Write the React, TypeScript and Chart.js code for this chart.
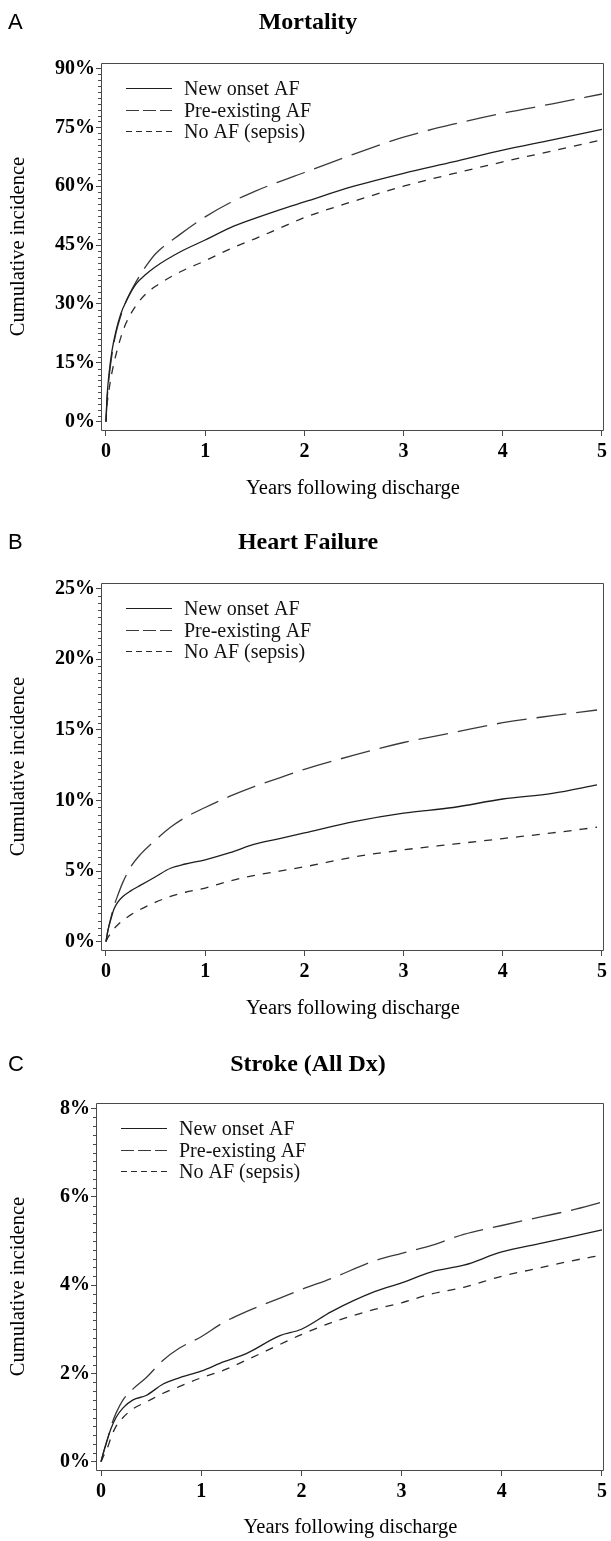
import React, { useEffect, useRef } from "react";
import { Chart, registerables } from "chart.js";

Chart.register(...registerables);

// ---------------- Data ----------------
const seriesLabels = ["New onset AF", "Pre-existing AF", "No AF (sepsis)"];
const xTickYears = [0, 1, 2, 3, 4, 5];

const mortalityYears = [0, 0.01, 0.03, 0.06, 0.1, 0.15, 0.2, 0.3, 0.4, 0.5, 0.75, 1, 1.25, 1.5, 1.75, 2, 2.5, 3, 3.5, 4, 4.5, 5];
const mortalityNewOnset = [0, 6, 12, 18, 23, 27.5, 30.5, 35, 37.5, 39.5, 43.3, 46.3, 49.4, 51.8, 54, 56, 60, 63.3, 66.2, 69.2, 71.8, 74.5];
const mortalityPreExisting = [0, 5, 11, 17, 22.5, 27, 30.5, 35.5, 39.5, 42.8, 47.8, 52.2, 55.8, 58.7, 61.2, 63.5, 68.2, 72.5, 75.8, 78.6, 81, 83.5];
const mortalityNoAF = [0, 4, 8, 12.5, 17, 21.5, 25, 29.5, 32.5, 34.5, 38.2, 41, 44, 46.6, 49.3, 52, 56.2, 60, 63.2, 66.2, 69, 71.8];
const mortalityYTicks = [0, 15, 30, 45, 60, 75, 90];

const heartFailureYears = [0, 0.02, 0.05, 0.08, 0.12, 0.17, 0.25, 0.35, 0.5, 0.65, 0.8, 1, 1.25, 1.5, 1.75, 2, 2.5, 3, 3.5, 4, 4.5, 4.95];
const heartFailureNewOnset = [0, 0.8, 1.6, 2.3, 2.8, 3.2, 3.6, 4.0, 4.6, 5.2, 5.5, 5.8, 6.3, 6.9, 7.3, 7.7, 8.5, 9.1, 9.5, 10.1, 10.5, 11.1];
const heartFailurePreExisting = [0, 0.8, 1.7, 2.5, 3.3, 4.2, 5.3, 6.2, 7.2, 8.1, 8.8, 9.5, 10.3, 11.0, 11.6, 12.2, 13.2, 14.1, 14.8, 15.5, 16.0, 16.4];
const heartFailureNoAF = [0, 0.3, 0.6, 0.9, 1.2, 1.5, 1.9, 2.3, 2.8, 3.2, 3.5, 3.8, 4.3, 4.7, 5.0, 5.3, 6.0, 6.5, 6.9, 7.3, 7.7, 8.1];
const heartFailureYTicks = [0, 5, 10, 15, 20, 25];

const strokeYears = [0, 0.03, 0.07, 0.1, 0.15, 0.22, 0.32, 0.45, 0.62, 0.78, 1, 1.22, 1.45, 1.78, 2, 2.3, 2.73, 3, 3.3, 3.62, 4, 4.4, 4.7, 5];
const strokeNewOnset = [0, 0.25, 0.55, 0.75, 1.0, 1.22, 1.4, 1.5, 1.76, 1.9, 2.05, 2.26, 2.45, 2.85, 3.0, 3.4, 3.85, 4.05, 4.3, 4.45, 4.75, 4.95, 5.1, 5.25];
const strokePreExisting = [0, 0.25, 0.55, 0.8, 1.1, 1.4, 1.65, 1.9, 2.3, 2.57, 2.83, 3.15, 3.4, 3.7, 3.9, 4.15, 4.55, 4.72, 4.9, 5.15, 5.35, 5.55, 5.7, 5.88];
const strokeNoAF = [0, 0.15, 0.35, 0.55, 0.8, 1.0, 1.2, 1.35, 1.55, 1.7, 1.9, 2.07, 2.3, 2.65, 2.88, 3.15, 3.45, 3.6, 3.8, 3.95, 4.2, 4.4, 4.55, 4.68];
const strokeYTicks = [0, 2, 4, 6, 8];

// ---------------- Styles ----------------
const SERIF = '"Liberation Serif", "Times New Roman", serif';
const SANS = '"Liberation Sans", Arial, sans-serif';
const lineColors = ["#1e1e1e", "#3a3a3a", "#2a2a2a"];
const plotDashes = [[], [30, 10], [8, 8]];
const legendDashes = [[], [13, 4], [6, 4]];
const FRAME = "#4a4a4a";

type PanelCfg = {
  letter: string;
  title: string;
  years: number[];
  series: number[][];
  yTicks: number[];
  minorDiv: number;
  top: number;
  height: number;
  axisLeft: number;
  titleY: number;
};

const panels: PanelCfg[] = [
  { letter: "A", title: "Mortality", years: mortalityYears, series: [mortalityNewOnset, mortalityPreExisting, mortalityNoAF], yTicks: mortalityYTicks, minorDiv: 10, top: 0, height: 520, axisLeft: 102, titleY: 23 },
  { letter: "B", title: "Heart Failure", years: heartFailureYears, series: [heartFailureNewOnset, heartFailurePreExisting, heartFailureNoAF], yTicks: heartFailureYTicks, minorDiv: 10, top: 520, height: 520, axisLeft: 102, titleY: 23 },
  { letter: "C", title: "Stroke (All Dx)", years: strokeYears, series: [strokeNewOnset, strokePreExisting, strokeNoAF], yTicks: strokeYTicks, minorDiv: 10, top: 1040, height: 501, axisLeft: 97, titleY: 25 },
];

const AREA_TOP = 63;
const AREA_BOTTOM = 430;
const TOP_TICK_PX = 68.5;
const ZERO_PX = 421.7;

const decorPlugin = {
  id: "decor",
  afterDatasetsDraw(chart: any, _args: any, opts: any) {
    const { ctx, chartArea: a, scales } = chart;
    const ys = scales.y;
    const L = Math.round(a.left);
    const R = Math.round(a.right);
    const T = Math.round(a.top);
    const B = Math.round(a.bottom);
    ctx.save();
    ctx.strokeStyle = FRAME;
    ctx.lineWidth = 1;
    ctx.setLineDash([]);
    ctx.beginPath();
    ctx.moveTo(L - 0.5, T + 0.5);
    ctx.lineTo(R - 0.5, T + 0.5);
    ctx.lineTo(R - 0.5, B + 0.5);
    ctx.lineTo(L - 0.5, B + 0.5);
    ctx.closePath();
    ctx.stroke();
    // minor ticks on y axis
    const ticks: number[] = opts.yTicks;
    const major = ticks[1] - ticks[0];
    const minor = major / opts.minorDiv;
    const n = Math.round(ticks[ticks.length - 1] / minor);
    ctx.beginPath();
    for (let k = 0; k <= n; k++) {
      if (k % opts.minorDiv === 0) continue;
      const py = Math.round(ys.getPixelForValue(k * minor)) + 0.5;
      ctx.moveTo(L - 4, py);
      ctx.lineTo(L - 0.5, py);
    }
    ctx.stroke();
    // legend
    ctx.font = `20px ${SERIF}`;
    ctx.textBaseline = "middle";
    ctx.textAlign = "left";
    chart.data.datasets.forEach((ds: any, i: number) => {
      const yy = Math.round(a.top + 25 + i * 21.5) + 0.5;
      ctx.strokeStyle = ds.borderColor;
      ctx.lineWidth = 1.2;
      ctx.setLineDash(legendDashes[i]);
      ctx.beginPath();
      ctx.moveTo(L + 24, yy);
      ctx.lineTo(L + 70, yy);
      ctx.stroke();
      ctx.setLineDash([]);
      ctx.fillStyle = "#111";
      ctx.fillText(ds.label, L + 82, yy + 1);
    });
    // title and panel letter
    ctx.fillStyle = "#000";
    ctx.font = `bold 24px ${SERIF}`;
    ctx.textAlign = "center";
    ctx.fillText(opts.title, 308, opts.titleY);
    ctx.font = `22px ${SANS}`;
    ctx.textAlign = "left";
    ctx.fillText(opts.letter, 8, opts.titleY);
    ctx.restore();
  },
};

function Panel({ cfg }: { cfg: PanelCfg }) {
  const ref = useRef<HTMLCanvasElement>(null);
  useEffect(() => {
    const topTick = cfg.yTicks[cfg.yTicks.length - 1];
    const pxPerUnit = (ZERO_PX - TOP_TICK_PX) / topTick;
    const yMax = topTick + (TOP_TICK_PX - AREA_TOP) / pxPerUnit;
    const yMin = -(AREA_BOTTOM - ZERO_PX) / pxPerUnit;
    const xScaleHeight = cfg.height - AREA_BOTTOM;
    const chart = new Chart(ref.current as HTMLCanvasElement, {
      type: "line",
      data: {
        datasets: cfg.series.map((vals, i) => ({
          label: seriesLabels[i],
          data: cfg.years.map((x, j) => ({ x, y: vals[j] })),
          borderColor: lineColors[i],
          borderWidth: 1.3,
          borderDash: plotDashes[i],
          pointRadius: 0,
          tension: 0,
          cubicInterpolationMode: "monotone",
          fill: false,
        })),
      },
      options: {
        animation: false,
        responsive: false,
        devicePixelRatio: 1,
        layout: { padding: { top: AREA_TOP, right: 3, left: 0, bottom: 0 } },
        plugins: {
          legend: { display: false },
          tooltip: { enabled: false },
          title: { display: false },
          decor: { yTicks: cfg.yTicks, minorDiv: cfg.minorDiv, title: cfg.title, letter: cfg.letter, titleY: cfg.titleY },
        } as any,
        scales: {
          x: {
            type: "linear",
            min: -0.04,
            max: 5.02,
            afterBuildTicks: (s: any) => {
              s.ticks = xTickYears.map((v) => ({ value: v }));
            },
            afterFit: (s: any) => {
              s.height = xScaleHeight;
            },
            grid: { display: true, drawOnChartArea: false, drawTicks: true, tickLength: 6, color: FRAME, lineWidth: 1 },
            border: { display: false },
            ticks: {
              autoSkip: false,
              maxRotation: 0,
              padding: 4,
              color: "#000",
              font: { family: SERIF, size: 20, weight: "bold" },
              callback: (v: any) => String(v),
            },
            title: {
              display: true,
              text: "Years following discharge",
              color: "#000",
              font: { family: SERIF, size: 20.5 },
              padding: { top: 0, bottom: cfg.height === 520 ? 19 : 1 },
            },
          },
          y: {
            type: "linear",
            min: yMin,
            max: yMax,
            afterBuildTicks: (s: any) => {
              s.ticks = cfg.yTicks.map((v) => ({ value: v }));
            },
            afterFit: (s: any) => {
              s.width = cfg.axisLeft;
            },
            grid: { display: true, drawOnChartArea: false, drawTicks: true, tickLength: 6, color: FRAME, lineWidth: 1 },
            border: { display: false },
            ticks: {
              autoSkip: false,
              padding: 1,
              color: "#000",
              font: { family: SERIF, size: 20, weight: "bold" },
              callback: (v: any) => `${v}%`,
            },
            title: {
              display: true,
              text: "Cumulative incidence",
              color: "#000",
              font: { family: SERIF, size: 20.5 },
              padding: { top: 6, bottom: 0 },
            },
          },
        },
      } as any,
      plugins: [decorPlugin],
    });
    return () => chart.destroy();
  }, []);
  return (
    <canvas
      ref={ref}
      width={611}
      height={cfg.height}
      style={{ position: "absolute", left: 0, top: cfg.top, width: 611, height: cfg.height, display: "block" }}
    />
  );
}

export default function App() {
  return (
    <div style={{ position: "absolute", left: 0, top: 0, width: 611, height: 1541, overflow: "hidden", background: "#fff" }}>
      {panels.map((p) => (
        <Panel key={p.letter} cfg={p} />
      ))}
    </div>
  );
}
